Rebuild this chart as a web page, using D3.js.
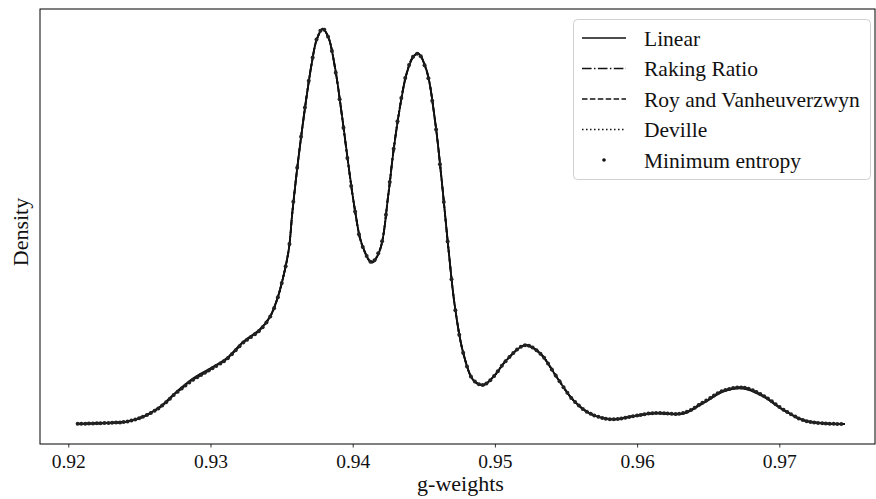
<!DOCTYPE html>
<html>
<head>
<meta charset="utf-8">
<script src="https://cdn.jsdelivr.net/npm/d3@7"></script>
<style>
  body { margin: 0; background: #fff; }
  svg { display: block; }
  text { font-family: "Liberation Serif", "DejaVu Serif", serif; fill: #111; }
</style>
</head>
<body>
<svg id="chart" width="876" height="499"></svg>
<script>
"use strict";

// KDE evaluation points of the g-weights
const gWeights = [
    0.92063, 0.92293, 0.92411, 0.92527, 0.92645, 0.92762, 0.92879, 0.92997, 0.93114, 0.93231,
    0.93348, 0.93418, 0.93466, 0.93500, 0.93550, 0.93575, 0.93606, 0.93641, 0.93676, 0.93712,
    0.93747, 0.93789, 0.93828, 0.93875, 0.93923, 0.93969, 0.94016, 0.94063, 0.94134, 0.94192,
    0.94250, 0.94285, 0.94333, 0.94380, 0.94426, 0.94461, 0.94520, 0.94579, 0.94626, 0.94672,
    0.94719, 0.94778, 0.94848, 0.94918, 0.94989, 0.95083, 0.95212, 0.95317, 0.95434, 0.95551,
    0.95669, 0.95821, 0.95973, 0.96114, 0.96325, 0.96465, 0.96606, 0.96747, 0.96887, 0.97028,
    0.97169, 0.97309, 0.97462
];

// density of each calibration method at those points
const linear = [
    0.10, 0.30, 0.60, 1.70, 3.90, 7.30, 10.3, 12.5, 14.8, 18.5,
    21.3, 24.1, 27.8, 31.5, 39.0, 47.2, 56.2, 65.2, 73.4, 80.8,
    86.1, 88.5, 86.8, 80.1, 69.6, 58.4, 48.0, 40.5, 36.2, 39.0,
    51.2, 60.7, 71.1, 78.6, 82.3, 83.1, 79.3, 68.1, 54.7, 39.8,
    26.3, 15.9, 9.90, 8.80, 10.6, 14.4, 17.7, 15.9, 10.6, 5.40,
    2.40, 1.10, 1.80, 2.40, 2.40, 4.70, 7.30, 8.00, 6.20, 3.20,
    0.90, 0.20, 0.05
];
const rakingRatio = [
    0.10, 0.30, 0.60, 1.70, 3.80, 7.10, 10.0, 12.2, 14.6, 18.3,
    21.2, 24.0, 27.7, 31.5, 39.1, 47.4, 56.4, 65.4, 73.6, 80.9,
    86.2, 88.5, 86.7, 79.9, 69.4, 58.2, 47.9, 40.5, 36.3, 39.2,
    51.4, 60.9, 71.3, 78.7, 82.3, 83.0, 79.1, 67.9, 54.5, 39.7,
    26.3, 15.9, 9.90, 8.80, 10.6, 14.4, 17.7, 15.9, 10.6, 5.40,
    2.40, 1.10, 1.80, 2.50, 2.50, 4.90, 7.50, 8.20, 6.30, 3.20,
    0.90, 0.20, 0.05
];
const royVanheuverzwyn = [
    0.10, 0.30, 0.60, 1.70, 3.80, 7.20, 10.1, 12.3, 14.7, 18.4,
    21.2, 24.0, 27.7, 31.4, 39.0, 47.2, 56.3, 65.3, 73.5, 80.9,
    86.2, 88.6, 86.8, 80.0, 69.5, 58.3, 47.9, 40.4, 36.2, 39.1,
    51.3, 60.8, 71.2, 78.7, 82.4, 83.1, 79.2, 68.0, 54.6, 39.7,
    26.3, 15.9, 9.90, 8.80, 10.6, 14.4, 17.7, 15.9, 10.6, 5.40,
    2.40, 1.10, 1.80, 2.50, 2.40, 4.80, 7.40, 8.10, 6.30, 3.20,
    0.90, 0.20, 0.05
];
const deville = [
    0.10, 0.30, 0.60, 1.70, 3.80, 7.10, 10.0, 12.2, 14.6, 18.3,
    21.1, 24.0, 27.7, 31.5, 39.1, 47.4, 56.4, 65.5, 73.6, 81.0,
    86.3, 88.6, 86.7, 79.9, 69.4, 58.2, 47.8, 40.4, 36.3, 39.2,
    51.4, 60.9, 71.3, 78.8, 82.4, 83.0, 79.1, 67.9, 54.5, 39.6,
    26.2, 15.9, 9.90, 8.80, 10.6, 14.4, 17.7, 15.9, 10.6, 5.40,
    2.40, 1.10, 1.80, 2.50, 2.50, 4.90, 7.50, 8.20, 6.40, 3.30,
    0.90, 0.20, 0.05
];
const minimumEntropy = [
    0.10, 0.30, 0.60, 1.70, 3.80, 7.10, 10.0, 12.2, 14.6, 18.3,
    21.1, 24.0, 27.7, 31.5, 39.1, 47.5, 56.5, 65.5, 73.7, 81.0,
    86.3, 88.6, 86.7, 79.8, 69.3, 58.1, 47.8, 40.4, 36.3, 39.3,
    51.5, 61.0, 71.4, 78.8, 82.4, 83.0, 79.0, 67.8, 54.4, 39.6,
    26.2, 15.9, 9.90, 8.80, 10.6, 14.4, 17.7, 15.9, 10.6, 5.40,
    2.40, 1.10, 1.80, 2.50, 2.50, 4.90, 7.50, 8.20, 6.40, 3.30,
    0.90, 0.20, 0.05
];

const xTicks = [0.92, 0.93, 0.94, 0.95, 0.96, 0.97];
const methodNames = ["Linear", "Raking Ratio", "Roy and Vanheuverzwyn", "Deville", "Minimum entropy"];

const series = [
    { name: methodNames[0], values: linear, dash: null },
    { name: methodNames[1], values: rakingRatio, dash: "9.6,2.4,1.5,2.4" },
    { name: methodNames[2], values: royVanheuverzwyn, dash: "5.5,2.4" },
    { name: methodNames[3], values: deville, dash: "1.5,2.5" },
    { name: methodNames[4], values: minimumEntropy, dash: null, marker: true }
];

const svg = d3.select("#chart");
const margin = { left: 40, right: 1, top: 9, bottom: 55 };
const W = 876, H = 499;
const ink = "#111";

const x = d3.scaleLinear()
    .domain([0.91801, 0.97673])
    .range([margin.left, W - margin.right]);

const yMax = d3.max(series, s => d3.max(s.values));
const y = d3.scaleLinear()
    .domain([-0.05 * yMax, 1.05 * yMax])
    .range([H - margin.bottom, margin.top]);

// curves
const line = d3.line()
    .x((d, i) => x(gWeights[i]))
    .y(d => y(d))
    .curve(d3.curveCatmullRom.alpha(0.5));

const curvesG = svg.append("g");
series.forEach(function (s) {
    const p = curvesG.append("path")
        .datum(s.values)
        .attr("fill", "none")
        .attr("stroke", ink)
        .attr("stroke-width", s.marker ? 0 : 1.8)
        .attr("stroke-dasharray", s.dash)
        .attr("d", line);

    if (s.marker) {
        // point markers spaced like the KDE grid (200 points over the support)
        const node = p.node();
        const total = node.getTotalLength();
        const stepPx = (x(gWeights[gWeights.length - 1]) - x(gWeights[0])) / 199;
        let nextPx = x(gWeights[0]);
        const pts = [];
        for (let l = 0; l <= total; l += 0.4) {
            const pt = node.getPointAtLength(l);
            if (pt.x >= nextPx) {
                pts.push([pt.x, pt.y]);
                nextPx += stepPx;
            }
        }
        curvesG.append("g")
            .selectAll("circle")
            .data(pts)
            .enter()
            .append("circle")
            .attr("cx", d => d[0])
            .attr("cy", d => d[1])
            .attr("r", 2)
            .attr("fill", "#222");
    }
});

// spines
svg.append("rect")
    .attr("x", margin.left)
    .attr("y", margin.top)
    .attr("width", W - margin.right - margin.left)
    .attr("height", H - margin.bottom - margin.top)
    .attr("fill", "none")
    .attr("stroke", "#000")
    .attr("stroke-width", 1);

// x axis
const xAxis = d3.axisBottom(x)
    .tickValues(xTicks)
    .tickFormat(d3.format(".2f"))
    .tickSize(3.5)
    .tickPadding(6.5)
    .tickSizeOuter(0);

const xg = svg.append("g")
    .attr("transform", "translate(0," + (H - margin.bottom) + ")")
    .call(xAxis);
xg.select(".domain").remove();
xg.selectAll(".tick line").attr("stroke", "#000").attr("stroke-width", 0.8);
xg.selectAll(".tick text")
    .attr("fill", ink)
    .style("font-family", "'Liberation Serif', serif")
    .style("font-size", "19.5px");

// axis labels
svg.append("text")
    .attr("x", (margin.left + W - margin.right) / 2 + 3)
    .attr("y", 491)
    .attr("text-anchor", "middle")
    .style("font-size", "22px")
    .text("g-weights");

svg.append("text")
    .attr("transform", "translate(28,232) rotate(-90)")
    .attr("text-anchor", "middle")
    .style("font-size", "22px")
    .text("Density");

// legend
const legend = svg.append("g");
legend.append("rect")
    .attr("x", 573.5)
    .attr("y", 19.5)
    .attr("width", 297)
    .attr("height", 160)
    .attr("rx", 4)
    .attr("fill", "#fff")
    .attr("fill-opacity", 0.8)
    .attr("stroke", "#d0d0d0")
    .attr("stroke-width", 1);

const rowY = d3.scaleLinear().domain([0, 4]).range([38, 160]);
const rows = legend.selectAll(".row")
    .data(series)
    .enter()
    .append("g")
    .attr("class", "row")
    .attr("transform", (d, i) => "translate(0," + rowY(i) + ")");

rows.filter(d => !d.marker)
    .append("line")
    .attr("x1", 582)
    .attr("x2", 626)
    .attr("stroke", ink)
    .attr("stroke-width", 1.5)
    .attr("stroke-dasharray", d => d.dash);

rows.filter(d => d.marker)
    .append("circle")
    .attr("cx", 604)
    .attr("r", 1.8)
    .attr("fill", ink);

rows.append("text")
    .attr("x", 644)
    .attr("y", 7.5)
    .style("font-size", "21.5px")
    .text(d => d.name);
</script>
</body>
</html>
